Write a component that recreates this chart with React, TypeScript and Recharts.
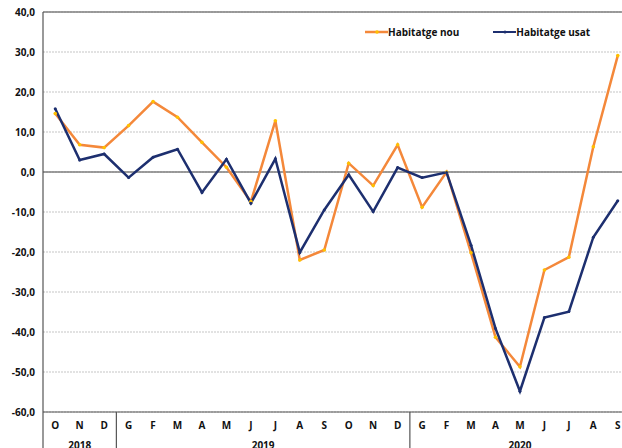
import React from 'react';
import { LineChart, Line, XAxis, YAxis, CartesianGrid, ReferenceLine } from 'recharts';

// months from Oct 2018 to Sep 2020 (Catalan initials)
const months = ['O', 'N', 'D', 'G', 'F', 'M', 'A', 'M', 'J', 'J', 'A', 'S', 'O', 'N', 'D', 'G', 'F', 'M', 'A', 'M', 'J', 'J', 'A', 'S'];
const habitatgeNou = [14.6, 6.8, 6.1, 11.6, 17.6, 13.7, 7.4, 1.2, -7.4, 12.8, -22.0, -19.5, 2.2, -3.4, 6.8, -8.8, 0.0, -20.2, -41.3, -48.7, -24.5, -21.3, 6.3, 29.1];
const habitatgeUsat = [15.8, 3.0, 4.5, -1.4, 3.7, 5.7, -5.1, 3.2, -7.8, 3.3, -20.1, -9.5, -0.7, -9.9, 1.1, -1.4, -0.1, -18.3, -39.1, -54.8, -36.4, -34.9, -16.3, -7.2];
const yTicks = [-60, -50, -40, -30, -20, -10, 0, 10, 20, 30, 40];
// year label sits under the given month index (2019 between two ticks)
const years = [
  { label: '2018', at: 1, shift: 0 },
  { label: '2019', at: 8, shift: 0.5 },
  { label: '2020', at: 19, shift: 0 },
];
const yearStarts = [0, 3, 15];

const data = months.map((m, i) => ({ m, i, nou: habitatgeNou[i], usat: habitatgeUsat[i] }));

const W = 622;
const H = 460;
const LEFT = 43;
const BAND = 24.46; // width of one month slot
const FONT = '"Open Sans", Lato, sans-serif';
const ORANGE = '#F4883A';
const NAVY = '#1D2F6F';

const MonthTick = (props: any) => {
  const { x, payload } = props;
  const i = payload.index;
  const yr = years.find(y => y.at === i);
  return (
    <g>
      <text x={x} y={429} textAnchor="middle" fontFamily={FONT} fontWeight={700} fontSize={10} fill="#111">
        {months[i]}
      </text>
      {yr && (
        <text x={x + yr.shift * BAND} y={449} textAnchor="middle" fontFamily={FONT} fontWeight={700} fontSize={10} fill="#111">
          {yr.label}
        </text>
      )}
      {yearStarts.includes(i) && (
        <line x1={x - BAND / 2} x2={x - BAND / 2} y1={412} y2={460} stroke="#555" strokeWidth={1.2} />
      )}
    </g>
  );
};

const fmt = (v: number) => v.toFixed(1).replace('.', ',');

export default function App() {
  return (
    <div style={{ position: 'fixed', left: 0, top: 0, width: 622, height: 448, overflow: 'hidden', background: '#fff' }}>
      <LineChart width={W} height={H} data={data} margin={{ top: 12, right: 0, left: 0, bottom: 0 }}>
        <CartesianGrid vertical={false} stroke="#d9d9d9" strokeWidth={1.5} strokeDasharray="2 1" />
        <XAxis
          dataKey="i"
          type="category"
          height={48}
          interval={0}
          padding={{ left: BAND / 2, right: BAND / 2 - 8 }}
          tickLine={false}
          axisLine={{ stroke: '#555', strokeWidth: 1.2 }}
          tick={<MonthTick />}
        />
        <YAxis
          width={LEFT}
          domain={[-60, 40]}
          ticks={yTicks}
          interval={0}
          tickFormatter={fmt}
          tickLine={false}
          axisLine={{ stroke: '#555', strokeWidth: 1.2 }}
          tick={{ fontFamily: FONT, fontWeight: 700, fontSize: 10, fill: '#111' }}
        />
        <ReferenceLine y={0} stroke="#7f7f7f" strokeWidth={1.5} />
        <ReferenceLine y={40} stroke="#7f7f7f" strokeWidth={1.5} />
        <Line
          dataKey="nou"
          name="Habitatge nou"
          stroke={ORANGE}
          strokeWidth={2.5}
          dot={{ r: 1.8, fill: '#FFC000', stroke: 'none' }}
          isAnimationActive={false}
        />
        <Line
          dataKey="usat"
          name="Habitatge usat"
          stroke={NAVY}
          strokeWidth={2.5}
          dot={{ r: 1.5, fill: NAVY, stroke: 'none' }}
          isAnimationActive={false}
        />
      </LineChart>
      {/* legend overlay */}
      <div style={{ position: 'absolute', top: 25, left: 365, display: 'flex', alignItems: 'center', fontFamily: FONT, fontWeight: 700, fontSize: 10, color: '#111' }}>
        <svg width={23} height={8}>
          <line x1={0} x2={23} y1={4} y2={4} stroke={ORANGE} strokeWidth={2.5} />
          <circle cx={12} cy={4} r={1.8} fill="#FFC000" />
        </svg>
        <span style={{ marginRight: 34 }}>Habitatge nou</span>
        <svg width={23} height={8}>
          <line x1={0} x2={23} y1={4} y2={4} stroke={NAVY} strokeWidth={2} />
          <circle cx={12} cy={4} r={1.5} fill={NAVY} />
        </svg>
        <span>Habitatge usat</span>
      </div>
    </div>
  );
}
